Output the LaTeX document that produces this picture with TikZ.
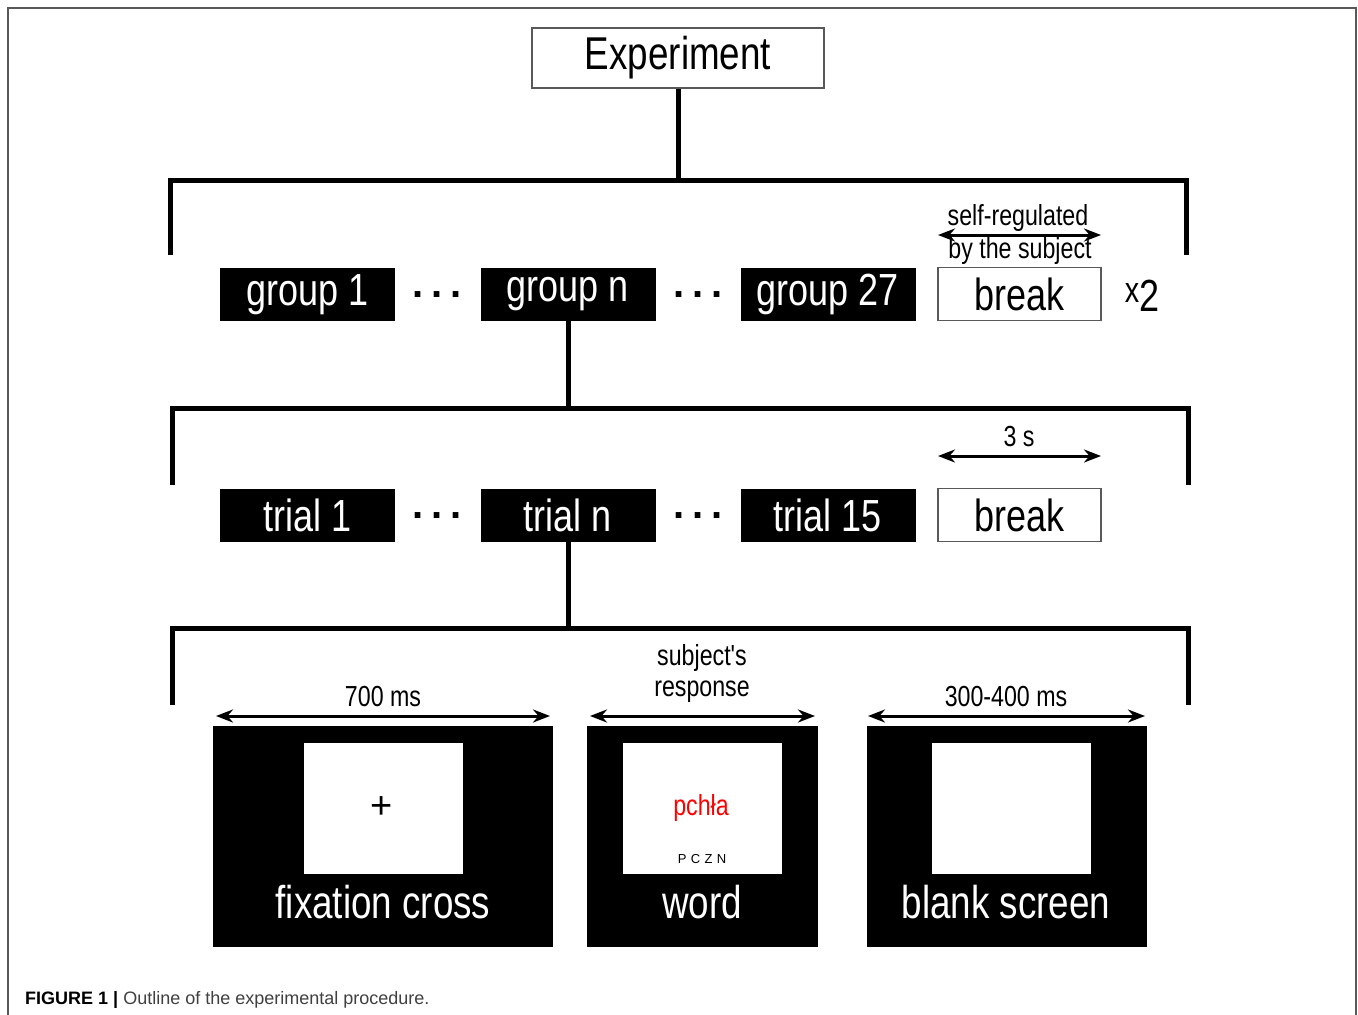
\documentclass[tikz,border=0pt]{standalone}
\usepackage{fontspec}
\setmainfont{Liberation Sans}
\newfontfamily\nar[FakeStretch=0.8]{Liberation Sans}
\usetikzlibrary{arrows.meta}
\newcommand{\fsz}[1]{\fontsize{#1}{#1}\selectfont}
\begin{document}
\begin{tikzpicture}[x=1pt,y=-1pt,
  blk/.style={fill=black,text=white,inner sep=0pt,minimum width=175pt,minimum height=53pt,font=\nar\fsz{45}},
  wbox/.style={draw=black!65,line width=1.5pt,fill=white,inner sep=0pt,font=\nar\fsz{45}},
  screen/.style={fill=black,text=white,inner sep=0pt,minimum height=221pt},
  inner/.style={fill=white,inner sep=0pt,minimum width=159pt,minimum height=131pt},
  brack/.style={line width=5pt},
  conn/.style={line width=5pt},
  dur/.style={{Stealth[length=17pt,width=13pt]}-{Stealth[length=17pt,width=13pt]},line width=3pt},
  lbl/.style={inner sep=0pt,font=\nar\fsz{29}},
  bigw/.style={inner sep=0pt,text=white,font=\nar\fsz{46}},
  dots/.style={inner sep=0pt,font=\bfseries\fsz{40}}
]
\useasboundingbox (0,0) rectangle (1358,1015);
\fill[white] (0,0) rectangle (1358,1015);
\draw[black!65,line width=1.5pt] (8,1015) -- (8,8) -- (1356,8) -- (1356,1015);

% top
\node[wbox,minimum width=292pt,minimum height=60pt,font=\nar\fsz{46}] (exp) at (678,58) {Experiment};
\coordinate (b1) at (678,180);
\draw[brack] (170,255) -- (170,180) -- (1186,180) -- (1186,255);
\draw[conn] (exp.south) -- (b1);

% group row
\node[blk] (g1) at (307.5,294.5) {group 1};
\node[blk] (gn) at (568,294.5) {group n};
\node[blk] (g27) at (828,294.5) {group 27};
\node[wbox,minimum width=163pt,minimum height=53pt] (brk1) at (1019.5,294) {break};
\node[dots] (d1) at (437,295) {.\hspace{8pt}.\hspace{8pt}.};
\node[dots] (d2) at (698,295) {.\hspace{8pt}.\hspace{8pt}.};
\node[inner sep=0pt,anchor=base] (x2) at (1142,311) {\nar\raisebox{9pt}{\fsz{36}x}\fsz{45}2};
\coordinate (sr1) at (938,235);
\coordinate (sr2) at (1101,235);
\draw[dur] (sr1) -- (sr2);
\node[lbl] (srt) at (1018,218) {self-regulated};
\node[lbl] (srb) at (1020,251) {by the subject};

% second bracket
\coordinate (b2) at (568,408);
\draw[brack] (172,485) -- (172,408) -- (1188,408) -- (1188,485);
\draw[conn] (gn.south) -- (b2);

% trial row
\node[blk] (t1) at (307.5,515) {trial 1};
\node[blk] (tn) at (568,515) {trial n};
\node[blk] (t15) at (828,515) {trial 15};
\node[wbox,minimum width=163pt,minimum height=53pt] (brk2) at (1019.5,515) {break};
\node[dots] (d3) at (437,516) {.\hspace{8pt}.\hspace{8pt}.};
\node[dots] (d4) at (698,516) {.\hspace{8pt}.\hspace{8pt}.};
\coordinate (ts1) at (938,456);
\coordinate (ts2) at (1101,456);
\draw[dur] (ts1) -- (ts2);
\node[lbl] (ts) at (1019,437) {3 s};

% third bracket
\coordinate (b3) at (568,628);
\draw[brack] (172,705) -- (172,628) -- (1188,628) -- (1188,705);
\draw[conn] (tn.south) -- (b3);

% screens
\node[screen,minimum width=340pt] (fix) at (383,836.5) {};
\node[screen,minimum width=231pt] (word) at (702.5,836.5) {};
\node[screen,minimum width=280pt] (blank) at (1007,836.5) {};
\node[inner] (fixs) at (383.5,808.5) {};
\node[inner] (words) at (702.5,808.5) {};
\node[inner] (blanks) at (1011.5,808.5) {};
\node[inner sep=0pt,font=\fsz{38}] (plus) at (382,808) {+};
\node[inner sep=0pt,text=red,font=\nar\fsz{29}] (pchla) at (701,808) {pchła};
\node[inner sep=0pt,font=\fsz{13}] (pczn) at (702,859) {P\,\,C\,\,Z\,\,N};
\node[bigw] (fixl) at (383,902) {fixation cross};
\node[bigw] (wordl) at (702,902) {word};
\node[bigw] (blankl) at (1006,902) {blank screen};

% durations
\coordinate (a1) at (216,716);
\coordinate (a2) at (550,716);
\draw[dur] (a1) -- (a2);
\node[lbl] (l700) at (383,697) {700 ms};
\coordinate (a3) at (590,716);
\coordinate (a4) at (815,716);
\draw[dur] (a3) -- (a4);
\node[lbl] (lsub) at (702,658) {subject's};
\node[lbl] (lresp) at (702,692) {response};
\coordinate (a5) at (868,716);
\coordinate (a6) at (1145,716);
\draw[dur] (a5) -- (a6);
\node[lbl] (l300) at (1006,697) {300-400 ms};

% caption
\node[anchor=base west,inner sep=0pt,font=\fsz{18}] (cap) at (25,1004) {\textbf{FIGURE 1 |} \textcolor{black!75}{Outline of the experimental procedure.}};
\end{tikzpicture}
\end{document}
